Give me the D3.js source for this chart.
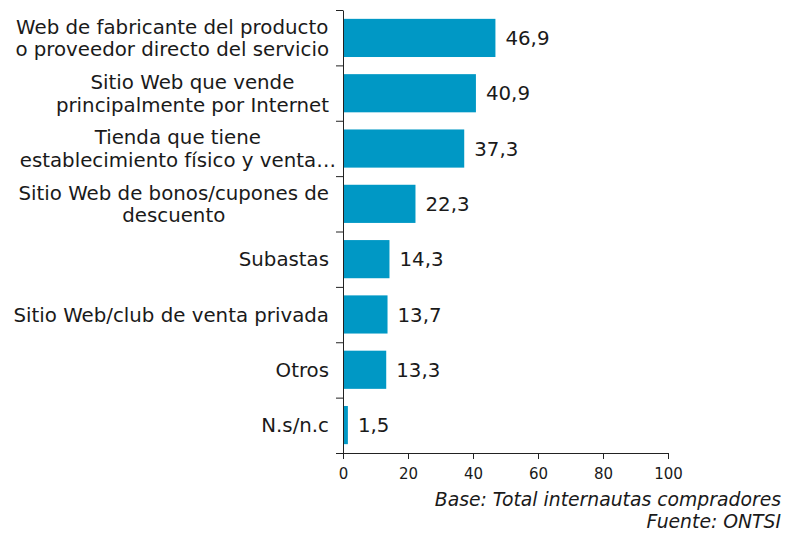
<!DOCTYPE html>
<html>
<head>
<meta charset="utf-8">
<script src="https://cdn.jsdelivr.net/npm/d3@7"></script>
<style>
  html, body { margin: 0; padding: 0; background: #fff; }
  svg { display: block; font-family: "DejaVu Sans", Verdana, sans-serif; }
</style>
</head>
<body>
<svg id="chart" width="790" height="534"></svg>
<script>
const categories = [
  ["Web de fabricante del producto", "o proveedor directo del servicio"],
  ["Sitio Web que vende", "principalmente por Internet"],
  ["Tienda que tiene", "establecimiento físico y venta…"],
  ["Sitio Web de bonos/cupones de", "descuento"],
  ["Subastas"],
  ["Sitio Web/club de venta privada"],
  ["Otros"],
  ["N.s/n.c"]
];
const values = [46.9, 40.9, 37.3, 22.3, 14.3, 13.7, 13.3, 1.5];
const xTicks = [0, 20, 40, 60, 80, 100];
const footnotes = ["Base: Total internautas compradores", "Fuente: ONTSI"];

const svg = d3.select("#chart");
const textColor = "#1a1a1a";
const barColor = "#0098c5";

const x = d3.scaleLinear().domain([0, 100]).range([343, 668]);
const ids = categories.map((d, i) => i);
const y = d3.scaleBand().domain(ids).range([10, 453]).paddingInner(0.31).paddingOuter(0.16);
const yEdges = d3.scaleLinear().domain([0, categories.length]).range([10, 453]);

// bars
svg.append("g").selectAll("rect").data(values).join("rect")
  .attr("x", x(0))
  .attr("y", (d, i) => y(i))
  .attr("width", d => x(d) - x(0))
  .attr("height", y.bandwidth())
  .attr("fill", barColor);

// value labels
svg.append("g").selectAll("text").data(values).join("text")
  .attr("x", d => x(d) + 10)
  .attr("y", (d, i) => y(i) + y.bandwidth() / 2)
  .attr("dy", "0.36em")
  .attr("font-size", 19.8)
  .attr("fill", textColor)
  .text(d => d.toFixed(1).replace(".", ","));

// y axis with boundary ticks
const yAxis = svg.append("g").attr("transform", `translate(${x(0)},0)`)
  .call(d3.axisLeft(yEdges).tickValues(d3.range(categories.length + 1)).tickFormat("").tickSize(7).tickSizeOuter(0));
yAxis.selectAll("path, line").attr("stroke", "#222");

// x axis
const xAxis = svg.append("g").attr("transform", `translate(0,${yEdges(categories.length)})`)
  .call(d3.axisBottom(x).tickValues(xTicks).tickSize(6).tickPadding(9).tickSizeOuter(0));
xAxis.selectAll("path, line").attr("stroke", "#222");
xAxis.selectAll("text").attr("font-size", 15).attr("fill", textColor)
  .attr("font-family", '"DejaVu Sans", Verdana, sans-serif');

// category labels (centered lines, block right-aligned; trailing ellipsis may overflow)
const labelRight = 329;
const lineH = 22.5;
const lg = svg.append("g").attr("font-size", 19.8).attr("fill", textColor);
categories.forEach((lines, i) => {
  const t = lg.append("text").attr("text-anchor", "middle");
  const cy = y(i) + y.bandwidth() / 2;
  const n = lines.length;
  const spans = lines.map((ln, k) => t.append("tspan")
    .attr("y", cy + (k - (n - 1) / 2) * lineH)
    .attr("dy", "0.36em")
    .text(ln));
  let maxW = 0;
  spans.forEach(s => {
    const node = s.node();
    let w = node.getComputedTextLength();
    const txt = node.textContent;
    if (txt.endsWith("…")) w -= node.getSubStringLength(txt.length - 1, 1) * 0.7;
    maxW = Math.max(maxW, w);
  });
  const cx = labelRight - maxW / 2;
  spans.forEach(s => s.attr("x", cx));
});

// footnotes
svg.append("g").attr("font-size", 18.8).attr("font-style", "italic").attr("fill", textColor)
  .attr("text-anchor", "end")
  .selectAll("text").data(footnotes).join("text")
  .attr("x", 781)
  .attr("y", (d, i) => 506 + i * 22)
  .text(d => d);
</script>
</body>
</html>
